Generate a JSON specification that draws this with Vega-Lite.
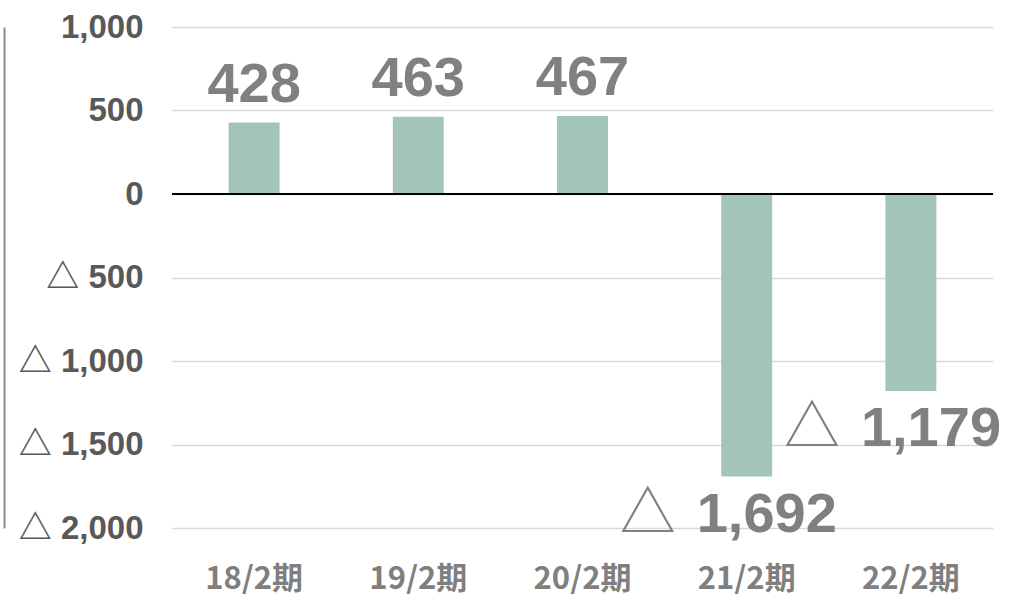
{
  "$schema": "https://vega.github.io/schema/vega-lite/v6.json",
  "width": 821,
  "height": 501,
  "autosize": {"type": "none"},
  "padding": {"left": 172, "top": 27, "right": 20, "bottom": 66},
  "background": "#ffffff",
  "config": {"view": {"stroke": null}},
  "data": {
    "values": [
      {"period": "18/2期", "value": 428},
      {"period": "19/2期", "value": 463},
      {"period": "20/2期", "value": 467},
      {"period": "21/2期", "value": -1692},
      {"period": "22/2期", "value": -1179}
    ]
  },
  "transform": [
    {"calculate": "format(abs(datum.value), ',')", "as": "lbl"}
  ],
  "encoding": {
    "x": {
      "field": "period",
      "type": "nominal",
      "sort": null,
      "scale": {"paddingInner": 0.69, "paddingOuter": 0.345},
      "axis": {
        "title": null,
        "domain": false,
        "ticks": false,
        "labelAngle": 0,
        "labelFont": "Noto Sans CJK JP",
        "labelFontWeight": "bold",
        "labelFontSize": 31,
        "labelColor": "#7f7f7f",
        "labelPadding": 36,
        "labelBaseline": "top"
      }
    }
  },
  "resolve": {"axis": {"y": "independent"}},
  "layer": [
    {
      "mark": {"type": "bar", "color": "#a3c4b9"},
      "encoding": {
        "y": {
          "field": "value",
          "type": "quantitative",
          "scale": {"domain": [-2000, 1000], "nice": false, "zero": false},
          "axis": {
            "title": null,
            "orient": "left",
            "values": [-2000, -1500, -1000, -500, 0, 500, 1000],
            "domain": false,
            "ticks": false,
            "grid": true,
            "gridColor": "#d9d9d9",
            "gridWidth": 1.5,
            "labelExpr": "datum.value < 0 ? '△ ' + format(-datum.value, ',') : format(datum.value, ',')",
            "labelFont": "Liberation Sans, Noto Sans CJK JP",
            "labelFontWeight": "bold",
            "labelFontSize": 33,
            "labelColor": "#595959",
            "labelPadding": 29
          }
        }
      }
    },
    {
      "mark": {"type": "rule", "color": "#000000", "strokeWidth": 1.5},
      "encoding": {
        "y": {
          "datum": 0,
          "type": "quantitative",
          "axis": {
            "title": null,
            "orient": "left",
            "offset": 168,
            "labels": false,
            "ticks": false,
            "grid": false,
            "domain": true,
            "domainColor": "#8c8c8c",
            "domainWidth": 2
          }
        },
        "x": {"value": 0},
        "x2": {"value": 821}
      }
    },
    {
      "transform": [{"filter": "datum.value >= 0"}],
      "mark": {
        "type": "text",
        "font": "Liberation Sans",
        "fontWeight": "bold",
        "fontSize": 56,
        "color": "#808080",
        "align": "center",
        "baseline": "alphabetic",
        "dy": -21
      },
      "encoding": {"y": {"field": "value", "type": "quantitative", "axis": null}, "text": {"field": "lbl"}}
    },
    {
      "transform": [{"filter": "datum.value < 0"}],
      "mark": {
        "type": "text",
        "font": "Liberation Sans",
        "fontWeight": "bold",
        "fontSize": 56,
        "color": "#808080",
        "align": "left",
        "baseline": "alphabetic",
        "dx": -50,
        "dy": 55
      },
      "encoding": {"y": {"field": "value", "type": "quantitative", "axis": null}, "text": {"field": "lbl"}}
    },
    {
      "transform": [{"filter": "datum.value < 0"}],
      "mark": {
        "type": "text",
        "font": "Noto Sans CJK JP",
        "fontWeight": "normal",
        "fontSize": 56,
        "color": "#808080",
        "align": "right",
        "baseline": "alphabetic",
        "dx": -71,
        "dy": 55
      },
      "encoding": {"y": {"field": "value", "type": "quantitative", "axis": null}, "text": {"value": "△"}}
    }
  ]
}
